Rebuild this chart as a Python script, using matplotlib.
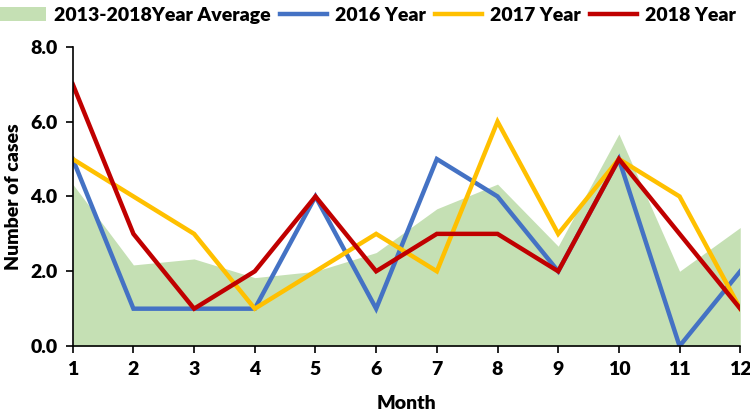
import matplotlib
matplotlib.use("Agg")
import matplotlib.pyplot as plt
from matplotlib.patches import Patch
from matplotlib.lines import Line2D

months = [1, 2, 3, 4, 5, 6, 7, 8, 9, 10, 11, 12]
avg_2013_2018 = [4.33, 2.17, 2.33, 1.83, 2.0, 2.5, 3.67, 4.33, 2.67, 5.67, 2.0, 3.17]
y2016 = [5, 1, 1, 1, 4, 1, 5, 4, 2, 5, 0, 2]
y2017 = [5, 4, 3, 1, 2, 3, 2, 6, 3, 5, 4, 1]
y2018 = [7, 3, 1, 2, 4, 2, 3, 3, 2, 5, 3, 1]
yticks = [0, 2, 4, 6, 8]

plt.rcParams['font.family'] = ['Lato', 'DejaVu Sans']
plt.rcParams['font.weight'] = 'bold'

fig = plt.figure(figsize=(7.5, 4.18), dpi=100)
ax = fig.add_axes([0.097, 0.172, 0.89, 0.716])

green = '#C5E0B4'
blue = '#4472C4'
yellow = '#FFC000'
red = '#C00000'

ax.fill_between(months, 0, avg_2013_2018, color=green, linewidth=0)
ax.plot(months, y2016, color=blue, lw=3.2, solid_joinstyle='miter')
ax.plot(months, y2017, color=yellow, lw=3.2, solid_joinstyle='miter')
ax.plot(months, y2018, color=red, lw=3.2, solid_joinstyle='miter')

ax.set_xlim(1, 12)
ax.set_ylim(0, 8)
ax.set_xticks(months)
ax.set_yticks(yticks)
ax.set_yticklabels([f"{v:.1f}" for v in yticks])
for s in ['top', 'right']:
    ax.spines[s].set_visible(False)
for s in ['left', 'bottom']:
    ax.spines[s].set_linewidth(1.2)
ax.tick_params(axis='both', direction='out', length=5, width=1.2, labelsize=14, pad=6)
for lab in ax.get_xticklabels() + ax.get_yticklabels():
    lab.set_fontweight('heavy')
ax.set_xlabel('Month', fontsize=14, fontweight='heavy', labelpad=12)
ax.set_ylabel('Number of cases', fontsize=14, fontweight='heavy', labelpad=6)

handles = [Patch(facecolor=green, edgecolor='none'),
           Line2D([0], [0], color=blue, lw=3.2),
           Line2D([0], [0], color=yellow, lw=3.2),
           Line2D([0], [0], color=red, lw=3.2)]
labels = ['2013-2018Year Average', '2016 Year', '2017 Year', '2018 Year']
fig.legend(handles, labels, loc='upper center', bbox_to_anchor=(0.49, 1.025), ncol=4,
           frameon=False, prop={'size': 14, 'weight': 'heavy'},
           handlelength=2.4, handletextpad=0.4, columnspacing=0.5)

fig.savefig('out.png', dpi=100)
